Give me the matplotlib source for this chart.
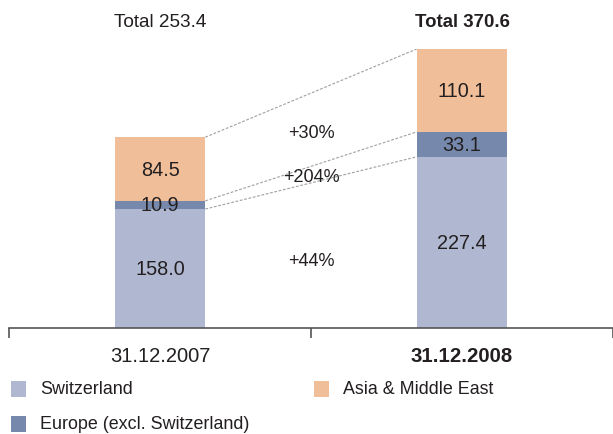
import matplotlib
matplotlib.use("Agg")
import matplotlib.pyplot as plt
from matplotlib.patches import Rectangle

dates = ['31.12.2007', '31.12.2008']
switzerland = [158.0, 227.4]
europe = [10.9, 33.1]
asia = [84.5, 110.1]
totals = [253.4, 370.6]
growth_labels = ['+44%', '+204%', '+30%']
growth_y = [89, 201, 260]
series_names = ['Switzerland', 'Europe (excl. Switzerland)', 'Asia & Middle East']
colors = ['#b0b8d1', '#7689ad', '#f0bf99']
txt = '#231f20'

plt.rcParams['font.family'] = ['Liberation Sans', 'DejaVu Sans']

W, H = 613, 435
fig = plt.figure(figsize=(W/100, H/100), dpi=100)
ax_left, ax_right = 9, 613
ax_bottom, ax_top = 329, 50
ax = fig.add_axes([ax_left/W, 1 - ax_bottom/H, (ax_right-ax_left)/W, (ax_bottom-ax_top)/H])
ax.set_xlim(-0.5, 1.5)
ax.set_ylim(0, totals[1])

x = [0, 1]
bw = 0.30
bottoms = [0, 0]
series = [switzerland, europe, asia]
for vals, c in zip(series, colors):
    ax.bar(x, vals, bw, bottom=bottoms, color=c, edgecolor='none', zorder=2)
    for i in range(2):
        ax.text(x[i], bottoms[i] + vals[i]/2, f'{vals[i]:.1f}', ha='center', va='center',
                fontsize=14.3, color=txt, zorder=3)
    bottoms = [bottoms[i] + vals[i] for i in range(2)]

# connector lines
cum = [0, 0]
for vals in series:
    cum = [cum[i] + vals[i] for i in range(2)]
    ax.plot([x[0] + bw/2, x[1] - bw/2], cum, color='#a0a0a0', lw=0.8,
            linestyle=(0, (2.5, 1.5)), zorder=1)

for lab, yv in zip(growth_labels, growth_y):
    ax.text(0.5, yv, lab, ha='center', va='center', fontsize=13.1, color=txt)

# totals and category labels
for i in range(2):
    bold = (i == 1)
    ax.text(x[i], totals[1] + 37, f'Total {totals[i]:.1f}', ha='center', va='center',
            fontsize=13.4 if bold else 13.7, color=txt,
            fontweight='bold' if bold else 'normal', clip_on=False)
    ax.text(x[i], -37, dates[i], ha='center', va='center',
            fontsize=14.7 if bold else 14.5, color=txt,
            fontweight='bold' if bold else 'normal', clip_on=False)

for s in ['top', 'right', 'left']:
    ax.spines[s].set_visible(False)
ax.spines['bottom'].set_color('#555555')
ax.spines['bottom'].set_linewidth(1.2)
ax.set_yticks([])
ax.set_xticks([-0.5, 0.5, 1.5])
ax.set_xticklabels([])
ax.tick_params(axis='x', direction='out', length=7, width=1.2, color='#555555')

# legend
def legend_item(px, py, label, color):
    fig.add_artist(Rectangle((px/W, 1 - (py+8)/H), 15/W, 16/H, transform=fig.transFigure,
                             color=color, lw=0))
    fig.text((px + 29)/W, 1 - py/H, label, ha='left', va='center', fontsize=12.9, color=txt)

legend_item(11, 390, series_names[0], colors[0])
legend_item(314, 390, series_names[2], colors[2])
legend_item(11, 425, series_names[1], colors[1])

fig.savefig('out.png', dpi=100)
